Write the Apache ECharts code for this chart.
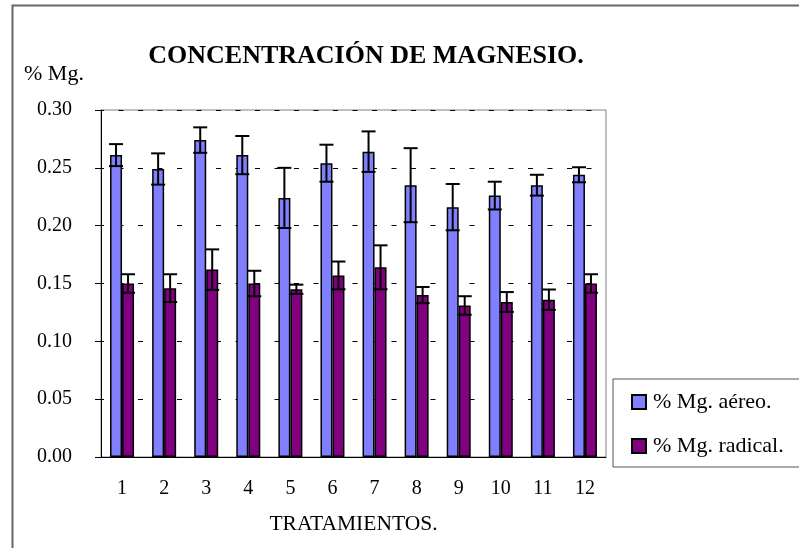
<!DOCTYPE html>
<html>
<head>
<meta charset="utf-8">
<script src="https://cdn.jsdelivr.net/npm/echarts@6/dist/echarts.min.js"></script>
<style>
  html, body { margin: 0; padding: 0; background: #fff; }
  #chart { width: 799px; height: 548px; }
</style>
</head>
<body>
<div id="chart"></div>
<script>
const categories = ['1', '2', '3', '4', '5', '6', '7', '8', '9', '10', '11', '12']
const aereo = [0.261, 0.249, 0.274, 0.261, 0.224, 0.254, 0.264, 0.235, 0.216, 0.226, 0.235, 0.244]
const aereoErr = [0.0095, 0.0135, 0.011, 0.0165, 0.026, 0.016, 0.0175, 0.032, 0.020, 0.012, 0.009, 0.0065]
const radical = [0.150, 0.146, 0.162, 0.150, 0.145, 0.157, 0.164, 0.140, 0.131, 0.134, 0.136, 0.150]
const radicalErr = [0.008, 0.012, 0.0175, 0.011, 0.004, 0.012, 0.019, 0.007, 0.008, 0.0086, 0.0088, 0.008]

const FONT = "'Liberation Serif', 'Times New Roman', serif"
const BAR_W = 12

const chart = echarts.init(document.getElementById('chart'))

// error bar items: [category index, low, high]
function errData(vals, errs) {
  return vals.map((v, i) => [i, v - errs[i], v + errs[i]])
}

function errRenderer(offset) {
  return function (params, api) {
    const i = api.value(0)
    const lo = api.coord([i, api.value(1)])
    const hi = api.coord([i, api.value(2)])
    const x = lo[0] + offset
    const cap = 7
    const style = { stroke: '#000', lineWidth: 2 }
    return {
      type: 'group',
      children: [
        { type: 'line', shape: { x1: x, y1: lo[1], x2: x, y2: hi[1] }, style },
        { type: 'line', shape: { x1: x - cap, y1: hi[1], x2: x + cap, y2: hi[1] }, style },
        { type: 'line', shape: { x1: x - cap, y1: lo[1], x2: x + cap, y2: lo[1] }, style }
      ]
    }
  }
}

chart.setOption({
  backgroundColor: '#fff',
  animation: false,
  textStyle: { fontFamily: FONT },
  title: [{
    text: 'CONCENTRACIÓN DE MAGNESIO.',
    left: 361,
    textAlign: 'center',
    top: 38,
    textStyle: { fontFamily: FONT, fontWeight: 'bold', fontSize: 26, color: '#000' }
  }, {
    text: '% Mg.',
    left: 19,
    top: 58,
    textStyle: { fontFamily: FONT, fontWeight: 'normal', fontSize: 22, color: '#000' }
  }],
  graphic: [{
    type: 'rect',
    left: 10,
    top: 3,
    shape: { width: 900, height: 700 },
    style: { fill: 'none', stroke: '#666', lineWidth: 2 },
    silent: true
  }],
  legend: {
    orient: 'vertical',
    left: 613,
    top: 379,
    padding: [12, 60, 10, 18],
    itemGap: 22,
    itemWidth: 14,
    itemHeight: 14,
    icon: 'rect',
    borderColor: '#555',
    borderWidth: 1,
    backgroundColor: '#fff',
    textStyle: { fontFamily: FONT, fontSize: 22, color: '#000', padding: [0, 0, 0, 2] },
    data: ['% Mg. aéreo.', '% Mg. radical.']
  },
  grid: {
    left: 101,
    right: 193,
    top: 110,
    bottom: 91,
    show: true,
    borderColor: '#808080',
    borderWidth: 1
  },
  xAxis: {
    type: 'category',
    data: categories,
    name: 'TRATAMIENTOS.',
    nameLocation: 'middle',
    nameGap: 56,
    nameTextStyle: { fontFamily: FONT, fontSize: 21.5, color: '#000' },
    axisLine: { lineStyle: { color: '#000', width: 1 } },
    axisTick: { alignWithLabel: false, length: 5, lineStyle: { color: '#000' } },
    axisLabel: { margin: 22, fontFamily: FONT, fontSize: 20, color: '#000' }
  },
  yAxis: {
    type: 'value',
    min: 0,
    max: 0.30,
    interval: 0.05,
    axisLine: { show: true, lineStyle: { color: '#000', width: 1 } },
    axisTick: { show: true, length: 6, lineStyle: { color: '#000' } },
    axisLabel: {
      margin: 29,
      fontFamily: FONT,
      fontSize: 20,
      color: '#000',
      formatter: v => v.toFixed(2)
    },
    splitLine: {
      show: true,
      lineStyle: { color: '#000', width: 1, type: [5, 14.5], dashOffset: 2 }
    }
  },
  series: [{
    name: '% Mg. aéreo.',
    type: 'bar',
    data: aereo,
    barWidth: BAR_W,
    barGap: '0%',
    itemStyle: { color: '#8080FF', borderColor: '#000', borderWidth: 1.5 }
  }, {
    name: '% Mg. radical.',
    type: 'bar',
    data: radical,
    barWidth: BAR_W,
    barGap: '0%',
    itemStyle: { color: '#800080', borderColor: '#000', borderWidth: 1.5 }
  }, {
    type: 'custom',
    data: errData(aereo, aereoErr),
    renderItem: errRenderer(-BAR_W / 2),
    encode: { x: 0, y: [1, 2] },
    z: 5,
    silent: true
  }, {
    type: 'custom',
    data: errData(radical, radicalErr),
    renderItem: errRenderer(BAR_W / 2),
    encode: { x: 0, y: [1, 2] },
    z: 5,
    silent: true
  }]
})
</script>
</body>
</html>
